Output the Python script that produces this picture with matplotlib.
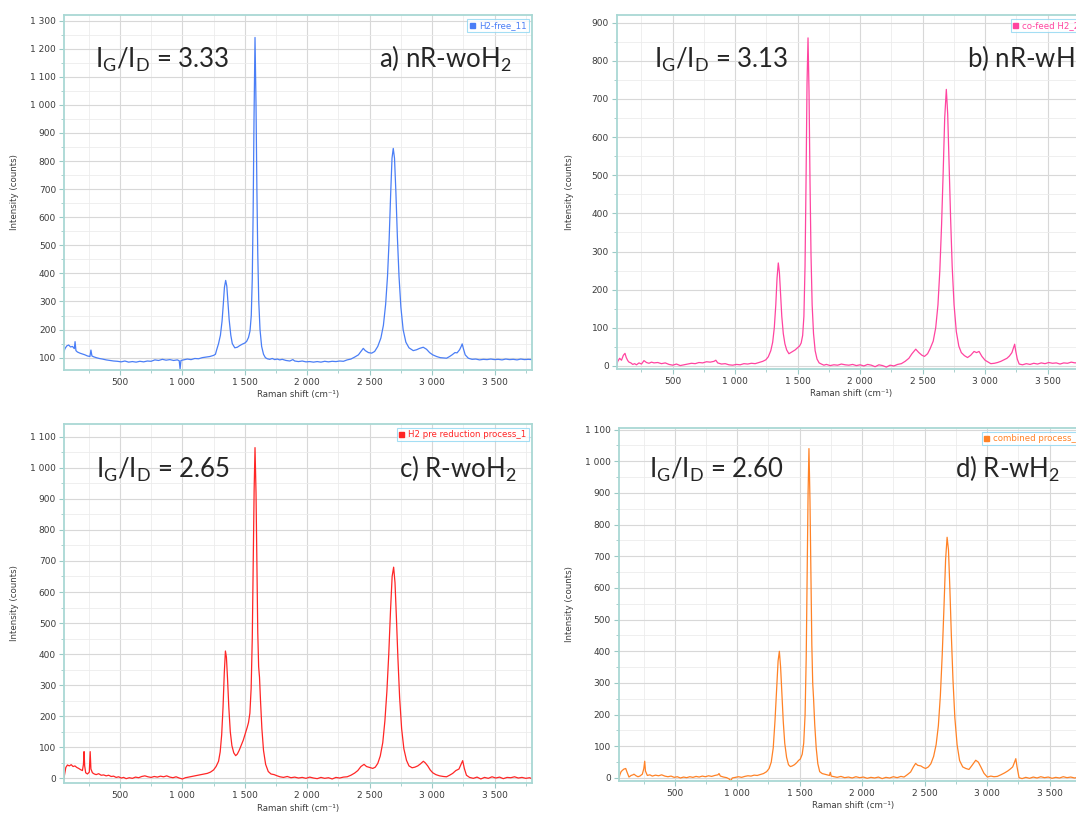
import matplotlib
matplotlib.use("Agg")
import matplotlib.pyplot as plt
from matplotlib.ticker import MultipleLocator, FuncFormatter
from matplotlib.lines import Line2D

plt.rcParams["font.family"] = ["DejaVu Sans"]
plt.rcParams["mathtext.fontset"] = "custom"
plt.rcParams["mathtext.rm"] = "Lato"
plt.rcParams["mathtext.it"] = "Lato"

# ---------------- spectra (Raman shift in cm^-1, intensity in counts) ----------------
a_shift = [50, 60, 75, 90, 105, 120, 135, 141, 148, 160, 180, 200, 220, 240, 260, 268, 276, 290,
           310, 335, 360, 390, 420, 450, 480, 510, 540, 570, 600, 630, 660, 690, 720, 750, 780, 810,
           840, 870, 900, 930, 960, 975, 982, 989, 1010, 1040, 1070, 1100, 1130, 1160, 1190, 1220,
           1250, 1265, 1275, 1290, 1305, 1318, 1328, 1337, 1347, 1356, 1365, 1375, 1388, 1400, 1420,
           1440, 1460, 1480, 1500, 1515, 1530, 1542, 1552, 1560, 1567, 1574, 1582, 1590, 1597, 1604,
           1612, 1622, 1635, 1650, 1665, 1680, 1700, 1720, 1740, 1760, 1780, 1800, 1830, 1860, 1885,
           1900, 1930, 1960, 1990, 2020, 2050, 2080, 2110, 2140, 2170, 2200, 2230, 2260, 2290, 2320,
           2350, 2380, 2410, 2430, 2449, 2465, 2490, 2516, 2540, 2565, 2590, 2610, 2628, 2643, 2656,
           2668, 2679, 2689, 2699, 2710, 2722, 2735, 2750, 2768, 2790, 2815, 2849, 2875, 2900, 2929,
           2955, 2980, 3005, 3036, 3065, 3090, 3116, 3140, 3160, 3183, 3200, 3220, 3233, 3241, 3252,
           3265, 3290, 3320, 3350, 3380, 3410, 3440, 3470, 3500, 3530, 3560, 3590, 3620, 3650, 3680,
           3710, 3740, 3770, 3800]
a_counts = [118, 132, 142, 145, 138, 140, 132, 157, 125, 120, 116, 113, 110, 106, 104, 127, 106, 103,
            100, 97, 95, 92, 90, 88, 87, 85, 88, 84, 86, 84, 87, 85, 88, 87, 92, 90,
            94, 91, 93, 90, 92, 89, 60, 90, 92, 95, 93, 97, 96, 100, 102, 104,
            108, 112, 128, 150, 180, 230, 290, 350, 375, 355, 300, 235, 180, 150, 135,
            137, 143, 148, 152, 158, 172, 195, 250, 380, 620, 950, 1240, 1000, 700, 470,
            300, 200, 140, 112, 100, 96, 94, 97, 93, 95, 92, 94, 90, 88, 93,
            88, 86, 88, 85, 86, 84, 86, 84, 87, 85, 87, 86, 88, 87, 92,
            95, 102, 110, 122, 133, 125, 118, 116, 122, 140, 170, 215, 290, 390, 520,
            680, 810, 845, 810, 690, 530, 390, 280, 200, 155, 135, 125, 128, 133, 137,
            130, 118, 110, 104, 100, 99, 98, 104, 110, 118, 117, 128, 140, 149, 130,
            110, 98, 94, 95, 92, 94, 93, 95, 93, 94, 92, 95, 93, 94, 92,
            95, 93, 94, 93]

b_shift = [50, 60, 75, 90, 105, 118, 128, 140, 150, 165, 180, 195, 210, 230, 250, 270, 290, 310,
           330, 350, 380, 410, 440, 470, 500, 530, 560, 590, 620, 650, 680, 710, 740, 770, 800, 830,
           845, 860, 890, 920, 950, 980, 1010, 1040, 1070, 1100, 1130, 1160, 1190, 1220, 1245, 1265,
           1285, 1300, 1313, 1325, 1335, 1345, 1354, 1363, 1373, 1385, 1398, 1412, 1430, 1445, 1460,
           1480, 1500, 1515, 1528, 1540, 1550, 1559, 1567, 1575, 1583, 1591, 1599, 1607, 1616, 1627,
           1640, 1655, 1672, 1690, 1710, 1730, 1760, 1790, 1820, 1850, 1880, 1910, 1940, 1970, 2000,
           2030, 2060, 2090, 2120, 2150, 2180, 2210, 2240, 2270, 2300, 2330, 2360, 2390, 2415, 2445,
           2470, 2495, 2515, 2540, 2560, 2585, 2605, 2623, 2638, 2652, 2665, 2677, 2690, 2701, 2712,
           2724, 2737, 2752, 2770, 2790, 2810, 2835, 2860, 2885, 2912, 2932, 2952, 2975, 3000, 3025,
           3046, 3075, 3100, 3126, 3150, 3175, 3195, 3215, 3230, 3237, 3245, 3258, 3273, 3300, 3330,
           3360, 3390, 3420, 3450, 3480, 3510, 3540, 3570, 3600, 3630, 3660, 3690, 3720, 3750, 3780,
           3800]
b_counts = [0, 12, 20, 15, 28, 33, 22, 14, 10, 8, 4, 6, 3, 8, 5, 14, 9, 7,
            10, 8, 9, 6, 8, 4, 2, 5, 1, 3, 5, 7, 6, 9, 8, 11, 10, 12,
            15, 8, 5, 6, 3, 2, 4, 3, 6, 5, 7, 6, 9, 12, 16, 24,
            40, 62, 100, 160, 230, 270, 245, 190, 130, 85, 58, 42, 32, 35, 38,
            42, 48, 52, 60, 80, 130, 260, 480, 740, 860, 720, 480, 290, 160, 85,
            40, 18, 8, 5, 2, 4, 1, 3, 2, 5, 3, 2, 4, 1, 3,
            0, 4, 2, -2, 3, 1, -3, 2, 0, 4, 6, 12, 20, 32, 44,
            35, 28, 25, 32, 45, 65, 100, 160, 250, 370, 510, 650, 725, 660, 530,
            390, 260, 160, 90, 52, 35, 27, 22, 28, 38, 35, 38, 25, 15, 10,
            6, 7, 9, 12, 16, 20, 26, 35, 50, 57, 40, 18, 5, 3, 6,
            4, 7, 5, 8, 6, 9, 7, 8, 5, 8, 7, 10, 8, 9, 7,
            9]

c_shift = [50, 58, 67, 80, 95, 110, 125, 140, 155, 170, 185, 200, 208, 213, 218, 226, 240, 255,
           262, 268, 280, 295, 310, 330, 350, 370, 390, 410, 430, 450, 470, 490, 510, 530, 550, 575,
           600, 625, 650, 675, 700, 725, 750, 775, 800, 825, 850, 875, 900, 925, 950, 975, 1000,
           1025, 1050, 1075, 1100, 1125, 1150, 1175, 1200, 1225, 1250, 1270, 1290, 1303, 1315, 1326,
           1336, 1345, 1353, 1362, 1372, 1384, 1397, 1412, 1427, 1440, 1455, 1470, 1488, 1505, 1520,
           1530, 1541, 1551, 1560, 1568, 1575, 1582, 1590, 1597, 1604, 1611, 1618, 1626, 1637, 1650,
           1667, 1688, 1710, 1735, 1760, 1782, 1810, 1840, 1870, 1900, 1930, 1960, 1990, 2020, 2050,
           2080, 2110, 2140, 2170, 2200, 2230, 2260, 2290, 2320, 2350, 2380, 2405, 2430, 2455, 2475,
           2500, 2525, 2545, 2565, 2585, 2605, 2622, 2638, 2653, 2667, 2680, 2692, 2703, 2714, 2726,
           2740, 2756, 2774, 2795, 2815, 2840, 2862, 2885, 2905, 2930, 2945, 2965, 2985, 3005, 3030,
           3060, 3090, 3116, 3140, 3165, 3190, 3215, 3232, 3245, 3258, 3275, 3300, 3330, 3360, 3390,
           3420, 3450, 3480, 3510, 3540, 3570, 3600, 3630, 3660, 3690, 3720, 3750, 3780, 3800]
c_counts = [-5, 15, 35, 43, 40, 44, 38, 40, 35, 32, 28, 25, 45, 86, 40, 18, 14, 20,
            86, 30, 18, 14, 12, 15, 10, 11, 8, 10, 6, 7, 3, 5, 1, 3, -1, 2,
            0, 4, 2, 6, 8, 5, 3, 6, 4, 7, 5, 8, 4, 2, 5, 1, -2,
            2, 4, 6, 8, 10, 12, 14, 16, 20, 27, 38, 55, 85, 140, 230,
            340, 410, 390, 320, 230, 150, 105, 82, 73, 78, 90, 105, 123, 145, 165,
            180, 210, 290, 450, 700, 930, 1065, 920, 680, 470, 360, 325, 250, 160, 90,
            45, 22, 14, 12, 8, 5, 3, 6, 2, 4, 1, 3, 0, 4, 1,
            -1, 3, 0, 2, -2, 3, 1, 4, 5, 10, 17, 25, 38, 45, 38,
            35, 32, 36, 48, 72, 115, 185, 280, 400, 540, 650, 680, 630, 520, 390,
            260, 160, 95, 58, 40, 34, 36, 40, 46, 55, 50, 40, 27, 18, 12,
            8, 6, 5, 10, 16, 25, 30, 45, 57, 32, 10, 3, 0, 4, -2,
            3, 0, 5, 1, 4, -1, 3, 2, 5, 1, 3, 0, 2, -1]

d_shift = [50, 60, 70, 80, 92, 107, 118, 133, 150, 165, 173, 190, 205, 220, 240, 252, 259, 265,
           280, 300, 320, 345, 370, 395, 420, 445, 470, 495, 520, 545, 570, 595, 620, 645, 670, 695,
           720, 745, 770, 795, 820, 845, 854, 865, 890, 915, 935, 948, 960, 985, 1010, 1035, 1060,
           1085, 1110, 1135, 1160, 1185, 1210, 1235, 1255, 1272, 1288, 1302, 1315, 1327, 1337, 1347,
           1357, 1368, 1380, 1395, 1410, 1425, 1440, 1458, 1475, 1490, 1505, 1520, 1532, 1543, 1552,
           1560, 1567, 1574, 1582, 1590, 1597, 1604, 1611, 1620, 1632, 1645, 1660, 1680, 1700, 1721,
           1738, 1745, 1752, 1775, 1800, 1830, 1860, 1890, 1920, 1950, 1980, 2010, 2040, 2070, 2100,
           2130, 2160, 2190, 2220, 2250, 2280, 2310, 2335, 2360, 2388, 2410, 2428, 2445, 2470, 2490,
           2508, 2530, 2550, 2572, 2592, 2610, 2626, 2641, 2655, 2668, 2680, 2691, 2702, 2714, 2727,
           2742, 2760, 2780, 2805, 2830, 2855, 2880, 2909, 2930, 2950, 2975, 3002, 3030, 3055, 3082,
           3110, 3140, 3165, 3185, 3205, 3220, 3230, 3240, 3256, 3280, 3310, 3340, 3370, 3400, 3430,
           3460, 3490, 3520, 3550, 3580, 3610, 3640, 3670, 3700, 3730, 3760, 3800]
d_counts = [-7, 10, 20, 24, 28, 30, 18, 3, 8, 10, 12, 7, 4, 6, 12, 30, 53, 22,
            8, 10, 6, 9, 7, 10, 6, 4, 6, 2, 4, 0, 3, 1, 4, 2, 5, 3,
            6, 4, 7, 5, 8, 10, 14, 6, 3, 1, -3, -9, 0, 2, 4, 2, 5,
            7, 6, 9, 8, 11, 14, 20, 30, 50, 95, 180, 280, 370, 400, 350,
            270, 180, 110, 65, 42, 36, 38, 42, 48, 55, 60, 75, 110, 200, 380,
            650, 900, 1040, 880, 620, 420, 300, 250, 170, 95, 45, 20, 14, 12, 10,
            8, 18, 6, 4, 2, 5, 1, 3, 0, 4, 1, 3, -1, 2, 0,
            3, -2, 2, 0, 4, 1, 5, 3, 10, 19, 35, 46, 40, 38, 33,
            30, 35, 45, 68, 105, 165, 260, 390, 540, 690, 760, 720, 600, 450, 310,
            190, 105, 55, 35, 30, 27, 40, 56, 50, 35, 15, 3, 6, 4, 5,
            10, 16, 22, 28, 35, 50, 61, 35, 1, -2, 2, -1, 3, 0, 4,
            1, 3, -1, 2, 0, 4, 1, 3, 0, 2, 1, 3]

# ---------------- panel definitions ----------------
series_names = ["H2-free_11", "co-feed H2_2", "H2 pre reduction process_1", "combined process_1"]
ratio_labels = ["3.33", "3.13", "2.65", "2.60"]
panel_tags = [r"a) nR-woH$_{2}$", r"b) nR-wH$_{2}$", r"c) R-woH$_{2}$", r"d) R-wH$_{2}$"]
line_colors = ["#4a7ef6", "#ff44a0", "#ff2626", "#ff8226"]
y_limits = [(56, 1320), (-8, 920), (-15, 1141), (-9.5, 1105)]
spectra = [(a_shift, a_counts), (b_shift, b_counts), (c_shift, c_counts), (d_shift, d_counts)]

W, H = 1076, 814
# axes boxes in pixels: left, top, right, bottom
boxes = [(63.7, 15, 532, 370), (616.5, 15, 1085, 369), (63.7, 424, 532, 783), (618.6, 428, 1087, 781)]
ratio_pos = [(0.066, 0.852), (0.081, 0.851), (0.070, 0.850), (0.064, 0.859)]
tag_pos = [(0.957, 0.852, "right"), (0.748, 0.851, "left"), (0.968, 0.850, "right"), (0.943, 0.859, "right")]

fig = plt.figure(figsize=(W / 100, H / 100), dpi=100)
fig.patch.set_facecolor("white")

spine_color = "#a9d8d4"
text_dark = "#262626"
tick_color = "#3c3c3c"
thousands = FuncFormatter(lambda v, p: f"{int(round(v)):,}".replace(",", " "))

for i in range(4):
    l, t, r, b = boxes[i]
    ax = fig.add_axes([l / W, 1 - b / H, (r - l) / W, (b - t) / H])
    x, y = spectra[i]
    ax.plot(x, y, color=line_colors[i], lw=0.9, solid_joinstyle="round")

    ax.set_xlim(50, 3800)
    ax.set_ylim(*y_limits[i])
    ax.xaxis.set_major_locator(MultipleLocator(500))
    ax.xaxis.set_minor_locator(MultipleLocator(250))
    ax.yaxis.set_major_locator(MultipleLocator(100))
    ax.yaxis.set_minor_locator(MultipleLocator(50))
    ax.xaxis.set_major_formatter(thousands)
    ax.yaxis.set_major_formatter(thousands)

    ax.grid(which="major", color="#d8d8d8", lw=0.8)
    ax.grid(which="minor", color="#ececec", lw=0.6)
    ax.set_axisbelow(True)
    for s in ax.spines.values():
        s.set_color(spine_color)
        s.set_linewidth(1.3)
    ax.tick_params(which="major", length=3.5, width=0.8, color="#9cc9c6",
                   labelsize=6.5, labelcolor=tick_color, pad=2)
    ax.tick_params(which="minor", length=2, width=0.6, color="#9cc9c6")

    ax.text(0.5, -0.07, "Raman shift (cm⁻¹)", transform=ax.transAxes, ha="center",
            va="center", fontsize=6.2, color=tick_color)
    ylab_x = (15 - l) / (r - l) if i % 2 == 0 else (569 - l) / (r - l)
    ax.text(ylab_x, 0.5, "Intensity (counts)", transform=ax.transAxes, rotation=90,
            ha="center", va="center", fontsize=6.2, color=tick_color)

    handle = Line2D([], [], color=line_colors[i], marker="s", markersize=3.6, linestyle="none")
    leg = ax.legend([handle], [series_names[i]], loc="upper right",
                    bbox_to_anchor=(0.993, 0.99), borderaxespad=0, fontsize=6.2,
                    frameon=True, fancybox=False, handlelength=0.6, handletextpad=0.5,
                    borderpad=0.25, labelcolor=line_colors[i])
    leg.get_frame().set_edgecolor("#8ed6f2")
    leg.get_frame().set_linewidth(0.8)

    rx, ry = ratio_pos[i]
    ax.text(rx, ry, r"I$_{\mathrm{G}}$/I$_{\mathrm{D}}$ = " + ratio_labels[i],
            transform=ax.transAxes, fontsize=18.5, family="Lato", fontweight="normal",
            color=text_dark, ha="left", va="baseline")
    tx, ty, tha = tag_pos[i]
    ax.text(tx, ty, panel_tags[i], transform=ax.transAxes, fontsize=18.5, family="Lato",
            fontweight="normal", color=text_dark, ha=tha, va="baseline")

fig.savefig("out.png", dpi=100)
